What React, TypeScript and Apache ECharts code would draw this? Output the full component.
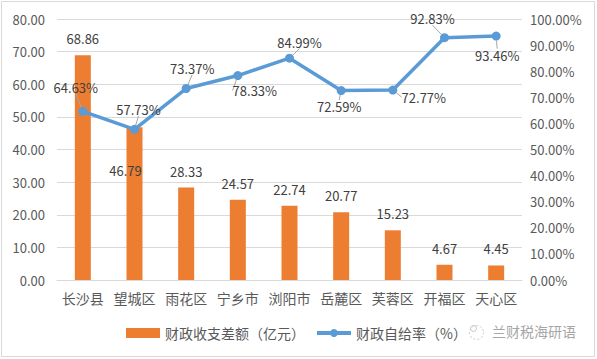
import React, { useEffect, useRef } from "react";
import * as echarts from "echarts";

const categories = ["长沙县", "望城区", "雨花区", "宁乡市", "浏阳市", "岳麓区", "芙蓉区", "开福区", "天心区"];
const gapValues = [68.86, 46.79, 28.33, 24.57, 22.74, 20.77, 15.23, 4.67, 4.45];
const rateValues = [64.63, 57.73, 73.37, 78.33, 84.99, 72.59, 72.77, 92.83, 93.46];
const leftTicks = { min: 0, max: 80, interval: 10 };
const rightTicks = { min: 0, max: 100, interval: 10 };
// label nudges (dx, dy) for the rate labels, relative to default "top"
const rateLabelShift = [
  [-7, -8],
  [4, -4],
  [6, -4],
  [17, 31],
  [10, 0],
  [-2, 32],
  [31, 23],
  [-12, -3],
  [1, 35],
];

const FONT = '"Microsoft YaHei", "Noto Sans CJK SC", sans-serif';

export default function App() {
  const ref = useRef<HTMLDivElement>(null);
  useEffect(() => {
    document.body.style.margin = "0";
    const chart = echarts.init(ref.current!, null, { renderer: "svg" });
    chart.setOption({
      animation: false,
      backgroundColor: "#fff",
      textStyle: { fontFamily: FONT },
      grid: { left: 57, right: 75, top: 19, bottom: 79 },
      graphic: [
        {
          type: "rect",
          shape: { x: 1.5, y: 1.5, width: 593, height: 355 },
          style: { fill: "none", stroke: "#d9d9d9", lineWidth: 1 },
          silent: true,
        },
        {
          type: "group",
          left: 467,
          top: 323,
          children: [
            { type: "circle", shape: { cx: 8, cy: 9, r: 7 }, style: { fill: "none", stroke: "#c8c8c8", lineWidth: 1, lineDash: [2, 2] } },
            { type: "circle", shape: { cx: 5, cy: 5, r: 3 }, style: { fill: "none", stroke: "#c8c8c8", lineWidth: 1 } },
          ],
        },
        {
          type: "text",
          left: 492,
          top: 324,
          style: { text: "兰财税海研语", fill: "#a6a6a6", font: `14px ${FONT}` },
        },
      ],
      legend: {
        left: 126,
        top: 326,
        padding: 0,
        itemWidth: 34,
        itemHeight: 10,
        itemGap: 10,
        textStyle: { fontSize: 14, color: "#595959", fontFamily: FONT },
        data: [
          { name: "财政收支差额（亿元）", icon: "rect" },
          { name: "财政自给率（%）", lineStyle: { width: 4 }, itemStyle: { borderWidth: 0 } },
        ],
      },
      xAxis: {
        type: "category",
        data: categories,
        axisLine: { lineStyle: { color: "#d9d9d9" } },
        axisTick: { show: false },
        axisLabel: { color: "#595959", fontSize: 14, margin: 11, interval: 0, fontFamily: FONT },
      },
      yAxis: [
        {
          type: "value",
          min: leftTicks.min,
          max: leftTicks.max,
          interval: leftTicks.interval,
          axisLine: { show: false },
          axisTick: { show: false },
          splitLine: { lineStyle: { color: "#d9d9d9" } },
          axisLabel: { color: "#595959", fontSize: 13, margin: 12, formatter: (v: number) => v.toFixed(2) },
        },
        {
          type: "value",
          min: rightTicks.min,
          max: rightTicks.max,
          interval: rightTicks.interval,
          axisLine: { show: false },
          axisTick: { show: false },
          splitLine: { show: false },
          axisLabel: { color: "#595959", fontSize: 13, margin: 8, formatter: (v: number) => v.toFixed(2) + "%" },
        },
      ],
      series: [
        {
          name: "财政收支差额（亿元）",
          type: "bar",
          data: gapValues.map((v, i) =>
            i === 1 ? { value: v, label: { offset: [-9, 60] } } : v
          ),
          barWidth: 16,
          itemStyle: { color: "#ED7D31" },
          label: {
            show: true,
            position: "top",
            distance: 10,
            color: "#404040",
            fontSize: 13,
            fontFamily: FONT,
            formatter: (p: any) => p.value.toFixed(2),
          },
          z: 1,
        },
        {
          name: "财政自给率（%）",
          type: "line",
          yAxisIndex: 1,
          data: rateValues,
          symbol: "circle",
          symbolSize: 9,
          lineStyle: { color: "#5B9BD5", width: 3.5 },
          itemStyle: { color: "#5B9BD5" },
          label: {
            show: true,
            position: "top",
            color: "#404040",
            fontSize: 13,
            fontFamily: FONT,
            formatter: (p: any) => p.value.toFixed(2) + "%",
          },
          labelLine: { show: true, lineStyle: { color: "#a6a6a6", width: 1 } },
          labelLayout: (p: any) => ({
            dx: rateLabelShift[p.dataIndex][0],
            dy: rateLabelShift[p.dataIndex][1],
          }),
          z: 3,
        },
      ],
    });
    return () => chart.dispose();
  }, []);
  return <div ref={ref} style={{ width: 597, height: 359, position: "absolute", left: 0, top: 0 }} />;
}
